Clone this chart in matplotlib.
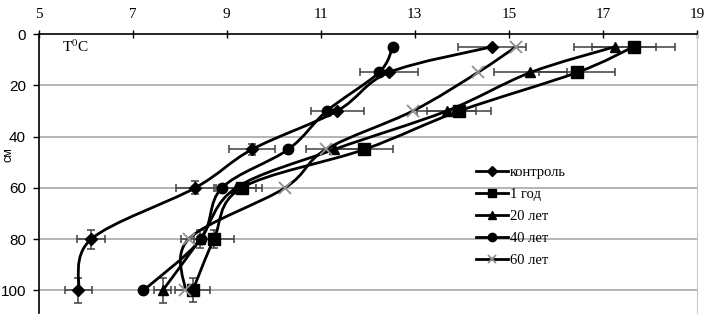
import matplotlib
matplotlib.use("Agg")
import matplotlib.pyplot as plt
from matplotlib.path import Path
from matplotlib.patches import PathPatch
from matplotlib.lines import Line2D
import numpy as np

plt.rcParams['mathtext.fontset'] = 'stix'

depth = [5, 15, 30, 45, 60, 80, 100]

labels = ["контроль", "1 год", "20 лет", "40 лет", "60 лет"]

t_control = [14.64, 12.45, 11.35, 9.54, 8.33, 6.12, 5.85]
t_1god = [17.65, 16.45, 13.95, 11.93, 9.32, 8.73, 8.28]
t_20 = [17.25, 15.46, 13.68, 11.29, 9.20, 8.44, 7.64]
t_40 = [12.53, 12.24, 11.13, 10.31, 8.90, 8.45, 7.23]
t_60 = [15.15, 14.34, 12.96, 11.11, 10.24, 8.19, 8.12]

xerr_control = [0.73, 0.62, 0.56, 0.48, 0.40, 0.30, 0.29]
yerr_control = [0, 0, 0, 2.0, 2.5, 3.7, 4.9]
xerr_1god = [0.88, 0.81, 0.68, 0.60, 0.43, 0.43, 0.37]
yerr_1god = [0, 0, 0, 0, 0, 3.5, 4.7]
xerr_20 = [0.87, 0.77, 0.63, 0.60, 0.42, 0.40, 0.18]
yerr_20 = [0, 0, 0, 0, 0, 3.5, 4.8]

xticks = [5, 7, 9, 11, 13, 15, 17, 19]
yticks = [0, 20, 40, 60, 80, 100]

W, H = 706, 317
fig = plt.figure(figsize=(W / 100, H / 100), dpi=100)
ax = fig.add_axes([38.5 / W, 1 - 313 / H, (697 - 38.5) / W, (313 - 34) / H])

ax.set_xlim(5, 19)
ax.set_ylim(108.8, 0)
ax.xaxis.tick_top()
ax.set_xticks(xticks)
ax.set_yticks(yticks)
ax.tick_params(axis='x', direction='inout', length=6, width=1, pad=6,
               labelsize=11)
ax.tick_params(axis='y', direction='out', length=4, width=1, pad=5,
               labelsize=11)
for lab in ax.get_xticklabels():
    lab.set_fontfamily('Liberation Serif')
for lab in ax.get_yticklabels():
    lab.set_fontfamily('Liberation Sans')

for s in ['left', 'top']:
    ax.spines[s].set_color('black')
    ax.spines[s].set_linewidth(1.2)
ax.spines['bottom'].set_visible(False)
ax.spines['right'].set_color('#c8c8c8')
ax.spines['right'].set_linewidth(0.8)

for yv in yticks[1:]:
    ax.axhline(yv, color='#a8a8a8', lw=1.2, zorder=0)


def smooth_path(xs, ys):
    pts = np.column_stack([xs, ys]).astype(float)
    n = len(pts)
    verts = [pts[0]]
    codes = [Path.MOVETO]
    for i in range(n - 1):
        p0 = pts[max(i - 1, 0)]
        p1 = pts[i]
        p2 = pts[i + 1]
        p3 = pts[min(i + 2, n - 1)]
        c1 = p1 + (p2 - p0) / 6.0
        c2 = p2 - (p3 - p1) / 6.0
        verts += [c1, c2, p2]
        codes += [Path.CURVE4] * 3
    return Path(verts, codes)


series = [
    (t_control, dict(marker='D', markersize=6.5, color='black', mfc='black', mec='black')),
    (t_1god, dict(marker='s', markersize=8, color='black', mfc='black', mec='black')),
    (t_20, dict(marker='^', markersize=7.5, color='black', mfc='black', mec='black')),
    (t_40, dict(marker='o', markersize=7.5, color='black', mfc='black', mec='black')),
    (t_60, dict(marker='x', markersize=8, color='black', mfc='#909090', mec='#909090', mew=1.3)),
]

for vals, st in series:
    patch = PathPatch(smooth_path(vals, depth), fill=False, edgecolor='black',
                      lw=2.0, transform=ax.transData, zorder=3)
    ax.add_patch(patch)

ecol = '#404040'
ax.errorbar(t_control, depth, xerr=xerr_control, yerr=yerr_control, fmt='none',
            ecolor=ecol, elinewidth=1.1, capsize=3, capthick=1.1, zorder=2)
ax.errorbar(t_1god, depth, xerr=xerr_1god, yerr=yerr_1god, fmt='none',
            ecolor=ecol, elinewidth=1.1, capsize=3, capthick=1.1, zorder=2)
ax.errorbar(t_20, depth, xerr=xerr_20, yerr=yerr_20, fmt='none',
            ecolor=ecol, elinewidth=1.1, capsize=3, capthick=1.1, zorder=2)

handles = []
for (vals, st), lab in zip(series, labels):
    kw = dict(st)
    kw.pop('color')
    ax.plot(vals, depth, linestyle='none', zorder=4, **kw)
    hk = dict(kw)
    hk['markersize'] = kw['markersize'] * 0.8
    handles.append(Line2D([], [], color='black', lw=2.0, label=lab, **hk))

leg = fig.legend(handles=handles, loc='upper left',
                 bbox_to_anchor=(476 / W, 1 - 166 / H), frameon=False,
                 prop={'family': 'Liberation Serif', 'size': 10.5},
                 handlelength=2.2, handletextpad=0.1, labelspacing=0.6,
                 borderpad=0, borderaxespad=0)

fig.text(62 / W, 1 - 47 / H, r'T$^{0}$C', fontsize=11, family='Liberation Serif',
         va='center', ha='left')
fig.text(8 / W, 1 - 155 / H, 'см', rotation=90, fontsize=9,
         family='Liberation Sans', va='center', ha='center')

fig.savefig('out.png', dpi=100)
